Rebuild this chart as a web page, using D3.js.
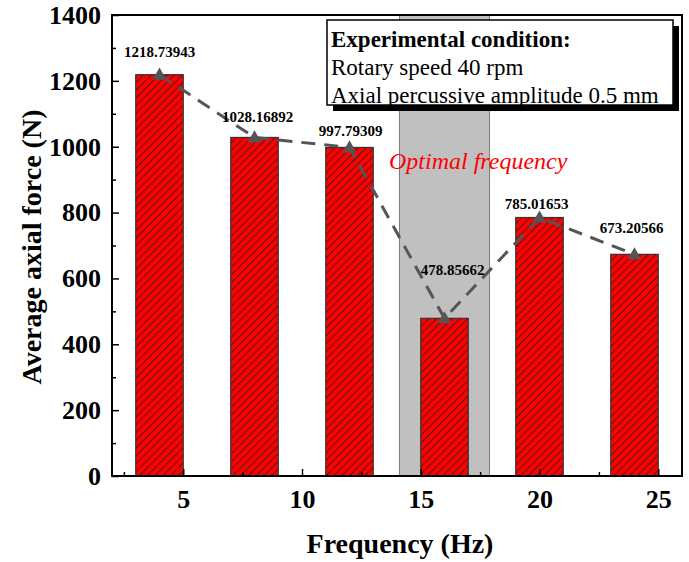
<!DOCTYPE html>
<html>
<head>
<meta charset="utf-8">
<script src="https://cdn.jsdelivr.net/npm/d3@7"></script>
<style>
  body { margin: 0; background: #fff; }
  text { font-family: 'Times New Roman', 'Liberation Serif', serif; }
</style>
</head>
<body>
<div id="chart"></div>
<script>
// data
var barPositions = [4, 8, 12, 16, 20, 24]
var forceValues = [1218.73943, 1028.16892, 997.79309, 478.85662, 785.01653, 673.20566]
var xTickValues = [5, 10, 15, 20, 25]
var yTickValues = [0, 200, 400, 600, 800, 1000, 1200, 1400]
var optimalBand = [14.1, 17.9]
var legendLines = ['Experimental condition:', 'Rotary speed 40 rpm', 'Axial percussive amplitude 0.5 mm']

// label nudges (px) so the numbers sit like the original
var labelNudge = [[0, -18], [3, -15], [1, -11], [8, -43], [-3, -9], [-3, -21]]

var width = 689,
		height = 562,
		plotLeft = 112,
		plotRight = 682,
		plotTop = 15,
		plotBottom = 476

var svg = d3.select('#chart')
	.append('svg')
		.attr('width', width)
		.attr('height', height)

var x = d3.scaleLinear()
	.domain([2, 26])
	.range([plotLeft, plotRight])

var y = d3.scaleLinear()
	.domain([0, 1400])
	.range([plotBottom, plotTop])

// hatch pattern for the bars
svg.append('defs')
	.append('pattern')
		.attr('id', 'hatch')
		.attr('patternUnits', 'userSpaceOnUse')
		.attr('width', 5.5)
		.attr('height', 5.5)
		.attr('patternTransform', 'rotate(45)')
	.call(function(p) {
		p.append('rect')
			.attr('width', 5.5)
			.attr('height', 5.5)
			.attr('fill', '#ff0000')
		p.append('line')
			.attr('x1', 0.5).attr('y1', 0)
			.attr('x2', 0.5).attr('y2', 5.5)
			.attr('stroke', '#222')
			.attr('stroke-width', 0.8)
	})

// gray band for the optimal frequency
svg.append('rect')
	.attr('x', x(optimalBand[0]))
	.attr('y', y(1400))
	.attr('width', x(optimalBand[1]) - x(optimalBand[0]))
	.attr('height', y(0) - y(1400))
	.attr('fill', '#c0c0c0')
	.attr('stroke', '#666')
	.attr('stroke-width', 0.8)

// bars
var barData = barPositions.map(function(p, i) { return { pos: p, value: forceValues[i], i: i } })

svg.selectAll('.bar')
		.data(barData).enter()
	.append('rect')
		.attr('class', 'bar')
		.attr('x', function(d) { return x(d.pos - 1) })
		.attr('y', function(d) { return y(d.value) })
		.attr('width', function(d) { return x(d.pos + 1) - x(d.pos - 1) })
		.attr('height', function(d) { return y(0) - y(d.value) })
		.attr('fill', 'url(#hatch)')
		.attr('stroke', '#333')
		.attr('stroke-width', 1.2)

// dashed line through the bar tops
var line = d3.line()
	.x(function(d) { return x(d.pos) })
	.y(function(d) { return y(d.value) })

svg.append('path')
	.datum(barData)
	.attr('d', line)
	.attr('fill', 'none')
	.attr('stroke', '#555')
	.attr('stroke-width', 3)
	.attr('stroke-dasharray', '14,9')

svg.selectAll('.marker')
		.data(barData).enter()
	.append('path')
		.attr('class', 'marker')
		.attr('d', d3.symbol().type(d3.symbolTriangle).size(85))
		.attr('transform', function(d) { return 'translate(' + x(d.pos) + ',' + (y(d.value) + 1) + ')' })
		.attr('fill', '#555')

// value labels
var fmt = d3.format('.5f')
svg.selectAll('.val')
		.data(barData).enter()
	.append('text')
		.attr('class', 'val')
		.attr('x', function(d) { return x(d.pos) + labelNudge[d.i][0] })
		.attr('y', function(d) { return y(d.value) + labelNudge[d.i][1] })
		.attr('text-anchor', 'middle')
		.attr('font-size', 15)
		.attr('font-weight', 'bold')
		.text(function(d) { return fmt(d.value) })

// optimal frequency note
svg.append('text')
	.attr('x', 389)
	.attr('y', 169)
	.attr('font-size', 24)
	.attr('font-style', 'italic')
	.attr('fill', '#ff0000')
	.text('Optimal frequency')

// legend box with shadow
var legend = svg.append('g')
	.attr('transform', 'translate(327,20)')

legend.append('rect')
	.attr('x', 6).attr('y', 6)
	.attr('width', 346).attr('height', 85)
	.attr('fill', '#000')

legend.append('rect')
	.attr('width', 346).attr('height', 85)
	.attr('fill', '#fff')
	.attr('stroke', '#000')
	.attr('stroke-width', 1.5)

legend.selectAll('text')
		.data(legendLines).enter()
	.append('text')
		.attr('x', 4)
		.attr('y', function(d, i) { return 27 + i * 28 })
		.attr('font-size', 23)
		.attr('font-weight', function(d, i) { return i === 0 ? 'bold' : 'normal' })
		.text(function(d) { return d })

// axes: ticks point inward
var minorX = d3.range(2.5, 26, 2.5).filter(function(v) { return v % 5 !== 0 })
var minorY = d3.range(100, 1400, 200)

var xAxis = svg.append('g')
	.attr('transform', 'translate(0,' + plotBottom + ')')
	.call(d3.axisBottom(x).tickValues(xTickValues).tickSizeInner(-7).tickSizeOuter(0).tickPadding(14))
xAxis.append('g')
	.call(d3.axisBottom(x).tickValues(minorX).tickSizeInner(-4).tickSizeOuter(0).tickFormat(''))

var yAxis = svg.append('g')
	.attr('transform', 'translate(' + plotLeft + ',0)')
	.call(d3.axisLeft(y).tickValues(yTickValues).tickFormat(d3.format('d')).tickSizeInner(-7).tickSizeOuter(0).tickPadding(11))
yAxis.append('g')
	.call(d3.axisLeft(y).tickValues(minorY).tickSizeInner(-4).tickSizeOuter(0).tickFormat(''))

svg.selectAll('.domain').remove()
svg.selectAll('.tick line').attr('stroke', '#000').attr('stroke-width', 1.5)
svg.selectAll('.tick text')
	.attr('font-family', "'Times New Roman', 'Liberation Serif', serif")
	.attr('font-size', 26)
	.attr('font-weight', 'bold')
	.attr('fill', '#000')

// frame
svg.append('rect')
	.attr('x', plotLeft)
	.attr('y', plotTop)
	.attr('width', plotRight - plotLeft)
	.attr('height', plotBottom - plotTop)
	.attr('fill', 'none')
	.attr('stroke', '#000')
	.attr('stroke-width', 2)

// axis titles
svg.append('text')
	.attr('x', (plotLeft + plotRight) / 2 + 3)
	.attr('y', 553)
	.attr('text-anchor', 'middle')
	.attr('font-size', 28)
	.attr('font-weight', 'bold')
	.text('Frequency (Hz)')

svg.append('text')
	.attr('transform', 'translate(41,247) rotate(-90)')
	.attr('text-anchor', 'middle')
	.attr('font-size', 28)
	.attr('font-weight', 'bold')
	.text('Average axial force (N)')
</script>
</body>
</html>
